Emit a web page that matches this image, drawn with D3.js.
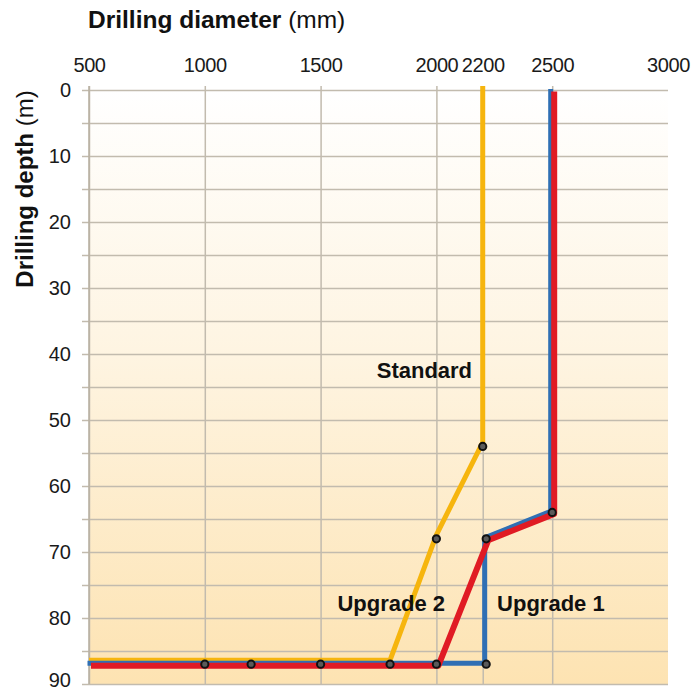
<!DOCTYPE html>
<html>
<head>
<meta charset="utf-8">
<script src="https://cdn.jsdelivr.net/npm/d3@7"></script>
<style>
  body { margin: 0; background: #fff; }
  svg { font-family: "Liberation Sans", Arial, Helvetica, sans-serif; }
  .tick text { fill: #1a1a1a; font-size: 20px; }
  .lbl { font-weight: bold; font-size: 22px; fill: #111; }
</style>
</head>
<body>
<svg width="692" height="691"></svg>
<script>
// diameter (mm) / depth (m)
var xTicks = [500, 1000, 1500, 2000, 2200, 2500, 3000];
var yTicks = [0, 5, 10, 15, 20, 25, 30, 35, 40, 45, 50, 55, 60, 65, 70, 75, 80, 85, 90];

var standardDiam = [2200, 2200, 2000, 1800, 500];
var standardDepth = [0, 54, 68, 87, 87];

var upgrade1Diam = [2500, 2500, 2215, 2215, 2000, 500];
var upgrade1Depth = [0, 64, 68, 87, 87, 87];

var upgrade2Diam = [2500, 2500, 2215, 2000, 500];
var upgrade2Depth = [0, 64, 68, 87, 87];

var markDiam = [2200, 2000, 1800, 1500, 1200, 1000, 2500, 2215, 2000, 2215];
var markDepth = [54, 68, 87, 87, 87, 87, 64, 68, 87, 87];

var labels = ["Standard", "Upgrade 2", "Upgrade 1"];
var labelDiam = [2154, 2037, 2262];
var labelDepth = [42.4, 77.7, 77.7];
var labelAnchor = ["end", "end", "start"];

var svg = d3.select("svg");

var x = d3.scaleLinear().domain([500, 3000]).range([89, 668]);
var y = d3.scaleLinear().domain([0, 90]).range([90, 684]);

var defs = svg.append("defs");
var grad = defs.append("linearGradient")
    .attr("id", "bg")
    .attr("x1", 0).attr("y1", 0).attr("x2", 0).attr("y2", 1);
grad.append("stop").attr("offset", "0%").attr("stop-color", "#ffffff");
grad.append("stop").attr("offset", "45%").attr("stop-color", "#fef4e1");
grad.append("stop").attr("offset", "100%").attr("stop-color", "#fde3b2");

svg.append("rect")
    .attr("x", x(500)).attr("y", y(0))
    .attr("width", x(3000) - x(500))
    .attr("height", y(90) - y(0))
    .attr("fill", "url(#bg)");

// horizontal grid + depth labels
var yAxis = svg.append("g")
    .attr("transform", "translate(" + x(500) + ",0)")
    .call(d3.axisLeft(y)
      .tickValues(yTicks)
      .tickSizeInner(-(x(3000) - x(500)))
      .tickSizeOuter(0)
      .tickPadding(18)
      .tickFormat(function(d) { return d % 10 == 0 ? d : ""; }));
yAxis.select(".domain").remove();
yAxis.selectAll(".tick line")
    .attr("x1", -7)
    .attr("stroke", "#c2bbae")
    .attr("stroke-width", 1.5);
yAxis.selectAll(".tick text")
    .attr("font-size", 20)
    .attr("dy", function(d) { return d == 90 ? "0.12em" : "0.3em"; });

// vertical grid + diameter labels
var xAxis = svg.append("g")
    .attr("transform", "translate(0," + (y(0) - 4) + ")")
    .call(d3.axisTop(x)
      .tickValues(xTicks)
      .tickSizeInner(-(y(90) - y(0) + 4))
      .tickSizeOuter(0)
      .tickPadding(14)
      .tickFormat(d3.format("d")));
xAxis.select(".domain").remove();
xAxis.selectAll(".tick line")
    .attr("stroke", "#c2bbae")
    .attr("stroke-width", 1.5)
    .filter(function(d) { return d == 3000; }).remove();
xAxis.selectAll(".tick text").attr("font-size", 20).attr("letter-spacing", -0.4);

// left axis line
svg.append("line")
    .attr("x1", x(500)).attr("x2", x(500))
    .attr("y1", y(0) - 4).attr("y2", y(90))
    .attr("stroke", "#b8b0a2")
    .attr("stroke-width", 1.5);

var line = d3.line()
    .x(function(d) { return x(d[0]); })
    .y(function(d) { return y(d[1]); });

function series(diam, depth, color, width, dx, dy) {
  svg.append("path")
    .datum(d3.zip(diam, depth))
    .attr("d", line)
    .attr("transform", "translate(" + dx + "," + dy + ")")
    .attr("fill", "none")
    .attr("stroke", color)
    .attr("stroke-width", width)
    .attr("stroke-linejoin", "round");
}

series(standardDiam, standardDepth, "#f6b50e", 5, 0, -4);
series(upgrade1Diam, upgrade1Depth, "#2f6fb4", 5, -1.5, -1);
series(upgrade2Diam, upgrade2Depth, "#e01b24", 6, 2, 1.5);

svg.append("g").selectAll("circle")
    .data(d3.zip(markDiam, markDepth))
    .enter().append("circle")
    .attr("cx", function(d) { return x(d[0]); })
    .attr("cy", function(d) { return y(d[1]); })
    .attr("r", 3.6)
    .attr("fill", "#5a5a5a")
    .attr("stroke", "#111")
    .attr("stroke-width", 2);

svg.append("g").selectAll("text")
    .data(labels)
    .enter().append("text")
    .attr("class", "lbl")
    .attr("x", function(d, i) { return x(labelDiam[i]); })
    .attr("y", function(d, i) { return y(labelDepth[i]); })
    .attr("dy", "0.36em")
    .attr("text-anchor", function(d, i) { return labelAnchor[i]; })
    .text(function(d) { return d; });

// titles
var xt = svg.append("text")
    .attr("x", 88).attr("y", 28)
    .attr("font-size", 24.5)
    .attr("fill", "#111");
xt.append("tspan").attr("font-weight", "bold").text("Drilling diameter");
xt.append("tspan").text(" (mm)");

var yt = svg.append("text")
    .attr("transform", "translate(33,189) rotate(-90)")
    .attr("text-anchor", "middle")
    .attr("font-size", 24)
    .attr("fill", "#111");
yt.append("tspan").attr("font-weight", "bold").text("Drilling depth");
yt.append("tspan").text(" (m)");
</script>
</body>
</html>
